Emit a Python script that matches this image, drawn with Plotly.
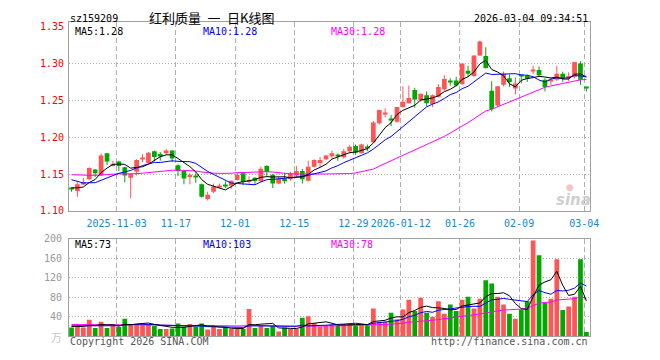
import plotly.graph_objects as go
import pandas as pd

# ---------------- data ----------------
opens = [1.131, 1.127, 1.137, 1.143, 1.156, 1.148, 1.178, 1.161, 1.167, 1.159,
         1.145, 1.153, 1.170, 1.165, 1.181, 1.177, 1.178, 1.182, 1.162, 1.154,
         1.146, 1.148, 1.136, 1.116, 1.126, 1.133, 1.135, 1.134, 1.142, 1.151,
         1.139, 1.145, 1.140, 1.161, 1.149, 1.137, 1.144, 1.143, 1.148, 1.154,
         1.141, 1.160, 1.165, 1.170, 1.174, 1.175, 1.173, 1.181, 1.188, 1.178,
         1.186, 1.193, 1.219, 1.232, 1.224, 1.221, 1.241, 1.246, 1.264, 1.250,
         1.257, 1.245, 1.255, 1.265, 1.276, 1.277, 1.272, 1.290, 1.283, 1.311,
         1.310, 1.263, 1.243, 1.271, 1.280, 1.266, 1.284, 1.283, 1.289, 1.291,
         1.278, 1.276, 1.278, 1.286, 1.280, 1.282, 1.300, 1.268]
highs = [1.132, 1.139, 1.145, 1.159, 1.157, 1.178, 1.178, 1.168, 1.168, 1.160,
         1.150, 1.170, 1.177, 1.180, 1.182, 1.180, 1.184, 1.182, 1.163, 1.155,
         1.151, 1.151, 1.137, 1.126, 1.137, 1.137, 1.140, 1.141, 1.152, 1.151,
         1.147, 1.146, 1.160, 1.162, 1.150, 1.146, 1.151, 1.153, 1.161, 1.157,
         1.168, 1.170, 1.173, 1.176, 1.182, 1.178, 1.184, 1.189, 1.190, 1.191,
         1.190, 1.222, 1.237, 1.239, 1.230, 1.241, 1.269, 1.270, 1.267, 1.259,
         1.262, 1.258, 1.272, 1.284, 1.280, 1.282, 1.300, 1.297, 1.311, 1.331,
         1.322, 1.276, 1.269, 1.289, 1.285, 1.281, 1.284, 1.285, 1.297, 1.296,
         1.280, 1.280, 1.297, 1.289, 1.288, 1.302, 1.303, 1.268]
lows = [1.126, 1.119, 1.135, 1.142, 1.146, 1.147, 1.162, 1.160, 1.154, 1.139,
        1.117, 1.148, 1.166, 1.164, 1.167, 1.168, 1.176, 1.166, 1.147, 1.136,
        1.136, 1.138, 1.118, 1.114, 1.124, 1.131, 1.131, 1.130, 1.141, 1.135,
        1.137, 1.136, 1.139, 1.146, 1.131, 1.136, 1.137, 1.141, 1.145, 1.137,
        1.140, 1.159, 1.159, 1.169, 1.171, 1.168, 1.171, 1.178, 1.176, 1.178,
        1.181, 1.192, 1.217, 1.227, 1.215, 1.220, 1.240, 1.246, 1.240, 1.248,
        1.242, 1.241, 1.254, 1.263, 1.270, 1.269, 1.271, 1.282, 1.282, 1.310,
        1.293, 1.235, 1.242, 1.269, 1.268, 1.258, 1.273, 1.275, 1.286, 1.283,
        1.262, 1.271, 1.276, 1.275, 1.276, 1.280, 1.271, 1.262]
closes = [1.129, 1.136, 1.139, 1.158, 1.151, 1.175, 1.167, 1.164, 1.161, 1.148,
          1.150, 1.169, 1.171, 1.179, 1.173, 1.175, 1.182, 1.171, 1.154, 1.144,
          1.149, 1.146, 1.119, 1.122, 1.133, 1.134, 1.134, 1.141, 1.149, 1.139,
          1.142, 1.141, 1.157, 1.153, 1.137, 1.144, 1.140, 1.151, 1.154, 1.143,
          1.160, 1.169, 1.169, 1.175, 1.178, 1.174, 1.181, 1.187, 1.179, 1.190,
          1.185, 1.220, 1.237, 1.233, 1.223, 1.241, 1.248, 1.253, 1.251, 1.259,
          1.246, 1.257, 1.268, 1.279, 1.275, 1.270, 1.300, 1.286, 1.311, 1.330,
          1.294, 1.238, 1.269, 1.286, 1.275, 1.273, 1.283, 1.281, 1.292, 1.284,
          1.268, 1.277, 1.286, 1.280, 1.283, 1.302, 1.278, 1.267]
volumes = [18, 22, 18, 34, 17, 30, 17, 21, 19, 36,
           25, 25, 25, 25, 21, 15, 15, 16, 26, 20,
           25, 20, 26, 14, 19, 15, 19, 15, 15, 15,
           56, 17, 21, 17, 21, 10, 18, 15, 15, 38,
           41, 27, 20, 22, 24, 24, 25, 25, 22, 25,
           22, 57, 30, 30, 48, 35, 55, 75, 52, 79,
           48, 40, 72, 46, 65, 52, 75, 81, 57, 77,
           115, 108, 81, 65, 46, 36, 55, 72, 196, 166,
           68, 77, 158, 54, 61, 81, 158, 9]
# estimated closes / volumes before the first visible day (only feed the moving averages)
prev_closes = [1.150, 1.155, 1.149, 1.153, 1.156, 1.152, 1.148, 1.151, 1.154, 1.150,
               1.153, 1.155, 1.151, 1.149, 1.152, 1.154, 1.153, 1.150, 1.152, 1.160,
               1.162, 1.158, 1.155, 1.150, 1.142, 1.136, 1.133, 1.128, 1.130]
prev_volumes = [28, 24, 26, 22, 30, 25, 23, 27, 24, 26,
                25, 22, 28, 26, 24, 27, 23, 25, 26, 25,
                22, 24, 20, 23, 25, 20, 19, 22, 21]
tick_index = [8, 18, 28, 38, 48, 56, 66, 76, 87]
tick_labels = ['2025-11-03', '11-17', '12-01', '12-15', '12-29',
               '2026-01-12', '01-26', '02-09', '03-04']
price_labels = [1.10, 1.15, 1.20, 1.25, 1.30, 1.35]
price_grid = [1.10, 1.15, 1.20, 1.25, 1.30]
vol_labels = [40, 80, 120, 160, 200]

# ---------------- styling ----------------
W, H = 660, 360
RED = '#ff5555'
GREEN = '#00a800'
MONO = 'DejaVu Sans Mono'
CJK = 'Noto Sans CJK SC'
AX = '#a0a0a0'
GRID = '#b0b0b0'
L_PX, R_PX = 70, 598


def px(x):
    return x / W


def py(y):
    return 1 - y / H


n = len(closes)
xs = list(range(n))
is_up = [c >= o for o, c in zip(opens, closes)]
colors = [RED if u else GREEN for u in is_up]
body_base = [min(o, c) for o, c in zip(opens, closes)]
body_h = [max(abs(c - o), 0.0012) for o, c in zip(opens, closes)]

cs = pd.Series(prev_closes + closes)
vs = pd.Series(prev_volumes + volumes)
k = len(prev_closes)
ma = {p: cs.rolling(p).mean().iloc[k:].tolist() for p in (5, 10, 30)}
vma = {p: vs.rolling(p).mean().iloc[k:].tolist() for p in (5, 10, 30)}
ma_col = {5: '#000000', 10: '#0000ff', 30: '#ff00ff'}

fig = go.Figure()

# wicks
for want, col in ((True, RED), (False, GREEN)):
    wx, wy = [], []
    for i in xs:
        if is_up[i] == want:
            wx += [i, i, None]
            wy += [lows[i], highs[i], None]
    fig.add_trace(go.Scatter(x=wx, y=wy, mode='lines', line=dict(color=col, width=1),
                             hoverinfo='skip', showlegend=False, xaxis='x', yaxis='y'))
# bodies
fig.add_trace(go.Bar(x=xs, y=body_h, base=body_base, width=0.8,
                     marker=dict(color=colors, line=dict(width=0)),
                     showlegend=False, xaxis='x', yaxis='y'))
for p in (30, 10, 5):
    fig.add_trace(go.Scatter(x=xs, y=ma[p], mode='lines', line=dict(color=ma_col[p], width=1),
                             showlegend=False, xaxis='x', yaxis='y'))
# volume
fig.add_trace(go.Bar(x=xs, y=volumes, width=0.8,
                     marker=dict(color=colors, line=dict(width=0)),
                     showlegend=False, xaxis='x2', yaxis='y2'))
for p in (30, 10, 5):
    fig.add_trace(go.Scatter(x=xs, y=vma[p], mode='lines', line=dict(color=ma_col[p], width=1),
                             showlegend=False, xaxis='x2', yaxis='y2'))

xr = [(L_PX - 72.5) / 6, (R_PX - 72.5) / 6]
grid_x = [t - 0.37 for t in tick_index]
price_top = 1.10 + (211.3 - 17) / 760
dom_price = [py(211.3), py(17)]
dom_vol = [py(340.7), py(240)]

common_x = dict(range=xr, domain=[px(L_PX), px(R_PX)], tickvals=grid_x, showgrid=True,
                gridcolor=GRID, griddash='5px,3px', gridwidth=1, showline=True, mirror=True,
                linecolor=AX, linewidth=1, zeroline=False, ticks='', fixedrange=True)

fig.update_layout(
    width=W, height=H, margin=dict(l=0, r=0, t=0, b=0),
    paper_bgcolor='white', plot_bgcolor='white', barmode='overlay', showlegend=False,
    xaxis=dict(common_x, anchor='y', ticktext=tick_labels, showticklabels=True,
               tickfont=dict(family=MONO, size=10, color='#1a86d0'), ticklabelstandoff=3),
    xaxis2=dict(common_x, anchor='y2', showticklabels=False),
    yaxis=dict(domain=dom_price, range=[1.10, price_top], anchor='x', tickvals=price_grid,
               showticklabels=False, showgrid=True, gridcolor=GRID, griddash='1px,2px',
               showline=True, mirror=True, linecolor=AX, linewidth=1, zeroline=False, ticks=''),
    yaxis3=dict(overlaying='y', range=[1.10, price_top], anchor='x', side='left',
                tickvals=price_labels, ticktext=['%.2f' % v for v in price_labels],
                tickfont=dict(family=MONO, size=10, color='#ff0000'), showgrid=False,
                showline=False, zeroline=False, ticks='', ticklabelstandoff=4),
    yaxis2=dict(domain=dom_vol, range=[0, 200], anchor='x2', tickvals=vol_labels,
                tickfont=dict(family=MONO, size=10, color='#999999'), showgrid=True,
                gridcolor=GRID, griddash='1px,2px', showline=True, mirror=True, linecolor=AX,
                linewidth=1, zeroline=False, ticks='', ticklabelstandoff=4),
)

# invisible point so the overlay label axis is drawn
fig.add_trace(go.Scatter(x=[xs[0]], y=[closes[0]], mode='markers', marker=dict(opacity=0),
                         hoverinfo='skip', showlegend=False, xaxis='x', yaxis='y3'))


def note(text, x, y, color='#000000', size=10, family=MONO, anchor='left', **kw):
    fig.add_annotation(text=text, x=px(x), y=py(y), xref='paper', yref='paper',
                       xanchor=anchor, yanchor='middle', showarrow=False,
                       font=dict(family=family, size=size, color=color), **kw)


note('sz159209', 69, 13)
note('红利质量\u2002一\u2002日K线图', 214, 12, size=13, family=CJK, anchor='center')
note('2026-03-04 09:34:51', 598, 13, anchor='right')
note('MA5:%.2f' % ma[5][-1], 74, 26.5)
note('MA10:%.2f' % ma[10][-1], 204, 26.5, color='#0000ff')
note('MA30:%.2f' % ma[30][-1], 334, 26.5, color='#ff00ff')
note('MA5:%d' % round(vma[5][-1]), 74, 246)
note('MA10:%d' % round(vma[10][-1]), 204, 246, color='#0000ff')
note('MA30:%d' % round(vma[30][-1]), 334, 246, color='#ff00ff')
note('万', 57, 341, color='#c8c8c8', size=11, family=CJK, anchor='center')
note('Copyright 2026 SINA.COM', 69, 346, color='#555555')
note('http://finance.sina.com.cn', 598, 346, color='#555555', anchor='right')
note('<b><i>sina</i></b>', 581, 200, color='#cfcfcf', size=15, family='DejaVu Sans', anchor='center')
note('●', 578, 187, color='#f4c4c4', size=9, family='DejaVu Sans', anchor='center')

fig.write_html('out.html')
